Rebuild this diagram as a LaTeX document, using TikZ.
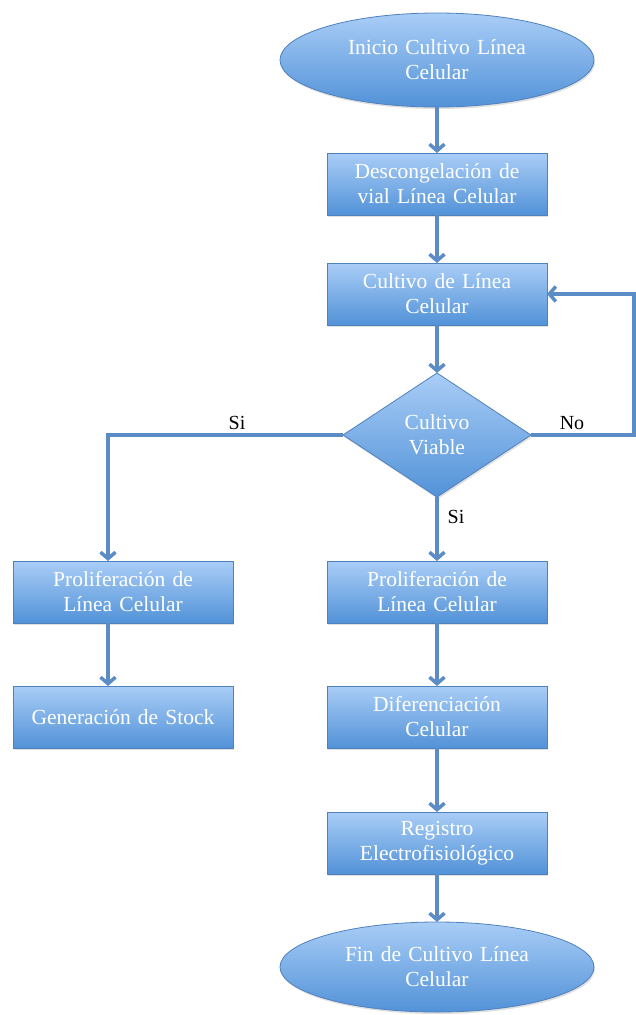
\documentclass[tikz,border=0pt]{standalone}
\usepackage{fontspec}
\setmainfont{Liberation Serif}
\usepackage{tikz}
\usetikzlibrary{shapes.geometric, arrows.meta, positioning, shadows}

\definecolor{boxtop}{HTML}{A9CDF6}
\definecolor{boxbot}{HTML}{5292D8}
\definecolor{boxline}{HTML}{4F81BD}
\definecolor{flow}{HTML}{5B8CC6}

\begin{document}
\begin{tikzpicture}[x=1pt, y=-1pt,
  blk/.style={draw=boxline, line width=0.8pt, top color=boxtop, bottom color=boxbot,
    drop shadow={shadow xshift=1pt, shadow yshift=-2pt, opacity=0.25},
    text=white, align=center, inner sep=2pt, outer sep=0pt,
    font=\fontsize{21.5}{25}\selectfont},
  procbox/.style={blk, rectangle, minimum width=220pt, minimum height=62pt, text width=214pt},
  term/.style={blk, ellipse, minimum width=314pt, minimum height=94pt, text width=190pt},
  decide/.style={blk, diamond, minimum width=188pt, minimum height=124pt, inner sep=0pt},
  arr/.style={draw=flow, line width=3.5pt, -{Straight Barb[length=6.5pt, width=15pt]}},
  lbl/.style={font=\fontsize{20}{22}\selectfont, text=black},
]
\useasboundingbox (0,0) rectangle (636,1015);

% main column
\node[term] (start) at (437,60) {Inicio Cultivo Línea\\Celular};
\node[procbox] (desc) at (437,184) {Descongelación de\\vial Línea Celular};
\node[procbox] (cult) at (437,294) {Cultivo de Línea\\Celular};
\node[decide] (dec) at (437,435) {Cultivo\\Viable};
\node[procbox] (prol) at (437,592) {Proliferación de\\Línea Celular};
\node[procbox] (dif) at (437,717) {Diferenciación\\Celular};
\node[procbox] (reg) at (437,843) {Registro\\Electrofisiológico};
\node[term, minimum height=90pt] (fin) at (437,967) {Fin de Cultivo Línea\\Celular};

% left branch
\node[procbox] (lp) at (123,592) {Proliferación de\\Línea Celular};
\node[procbox] (gen) at (123,717) {Generación de Stock};

\coordinate (sicorner) at (108,435);
\coordinate (nocorner) at (634,435);

\draw[arr] (start) -- (desc);
\draw[arr] (desc) -- (cult);
\draw[arr] (cult) -- (dec);
\draw[arr] (dec) -- (prol);
\draw[arr] (prol) -- (dif);
\draw[arr] (dif) -- (reg);
\draw[arr] (reg) -- (fin);
\draw[arr] (dec.west) -- (sicorner) -- (sicorner |- lp.north);
\draw[arr] (sicorner |- lp.south) -- (sicorner |- gen.north);
\draw[arr] (dec.east) -- (nocorner) -- (nocorner |- cult.east) -- (cult.east);

\node[lbl] (si1) at (237,423) {Si};
\node[lbl] (no1) at (572,423) {No};
\node[lbl] (si2) at (456,517) {Si};
\end{tikzpicture}
\end{document}
